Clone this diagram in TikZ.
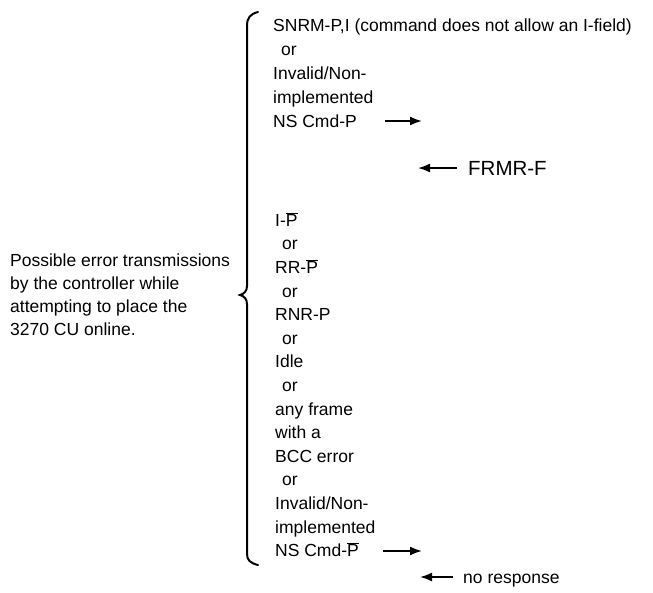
\documentclass[tikz,border=0pt]{standalone}
\usepackage{fontspec}
\setmainfont{Liberation Sans}
\usetikzlibrary{arrows.meta}
\newcommand{\Pbar}{$\overline{\mbox{P}}$}
\begin{document}
\begin{tikzpicture}[x=1pt,y=-1pt,
  txt/.style={anchor=base west,inner sep=0pt,font=\fontsize{17.5}{23.5}\selectfont},
  bigtxt/.style={anchor=base west,inner sep=0pt,font=\fontsize{20.5}{24}\selectfont},
  arr/.style={line width=1.8pt,-{Latex[length=12pt,width=9pt]}},
  bracestyle/.style={line width=2pt,line cap=round}]
\useasboundingbox (0,0) rectangle (653,592);

% left description
\node[txt] (d1) at (10,266.3) {Possible error transmissions};
\node[txt] (d2) at (10,289.3) {by the controller while};
\node[txt] (d3) at (10,312.3) {attempting to place the};
\node[txt] (d4) at (10,335.3) {3270 CU online.};

% brace
\draw[bracestyle] (258,12) .. controls (250,14) and (247,18) .. (247,26)
  -- (247,286) .. controls (247,291) and (244,294) .. (240,295)
  .. controls (244,296) and (247,299) .. (247,304)
  -- (247,554) .. controls (247,560) and (250,563) .. (258,565);

% top block
\node[txt] (t1) at (273,31.3) {SNRM-P,I (command does not allow an I-field)};
\node[txt] (t2) at (281,55.3) {or};
\node[txt] (t3) at (273,79.3) {Invalid/Non-};
\node[txt] (t4) at (273,103.3) {implemented};
\node[txt] (t5) at (273,127.3) {NS Cmd-P};
\coordinate (a1s) at (385,121);
\coordinate (a1e) at (422,121);
\draw[arr] (a1s) -- (a1e);

\coordinate (f1s) at (457,168);
\coordinate (f1e) at (418,168);
\draw[arr] (f1s) -- (f1e);
\node[bigtxt] (frmr) at (468,175.4) {FRMR-F};

% lower block
\node[txt] (b1)  at (275,226.3) {I-\Pbar};
\node[txt] (b2)  at (282,249.9) {or};
\node[txt] (b3)  at (275,273.5) {RR-\Pbar};
\node[txt] (b4)  at (282,297.1) {or};
\node[txt] (b5)  at (275,320.7) {RNR-P};
\node[txt] (b6)  at (282,344.3) {or};
\node[txt] (b7)  at (275,367.9) {Idle};
\node[txt] (b8)  at (282,391.5) {or};
\node[txt] (b9)  at (275,415.1) {any frame};
\node[txt] (b10) at (275,438.7) {with a};
\node[txt] (b11) at (275,462.3) {BCC error};
\node[txt] (b12) at (282,485.9) {or};
\node[txt] (b13) at (275,509.5) {Invalid/Non-};
\node[txt] (b14) at (275,533.1) {implemented};
\node[txt] (b15) at (275,556.7) {NS Cmd-\Pbar};
\coordinate (a2s) at (383,551);
\coordinate (a2e) at (422,551);
\draw[arr] (a2s) -- (a2e);

\coordinate (a3s) at (453,577);
\coordinate (a3e) at (420,577);
\draw[arr] (a3s) -- (a3e);
\node[txt] (nr) at (463,583.3) {no response};
\end{tikzpicture}
\end{document}
